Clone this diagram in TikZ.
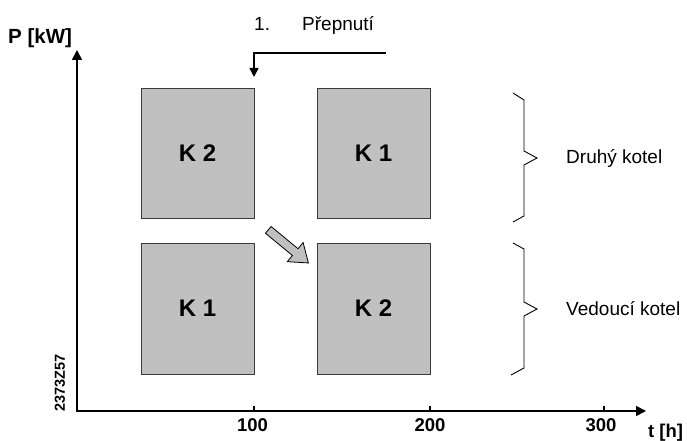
\documentclass[tikz,border=0pt]{standalone}
\usepackage{fontspec}
\setmainfont{Liberation Sans}
\usetikzlibrary{arrows.meta,shapes.arrows}

\definecolor{boxgray}{HTML}{C0C0C0}
\definecolor{edgegray}{HTML}{3A3A3A}

\tikzset{
  kbox/.style={draw=edgegray, line width=1pt, fill=boxgray,
    minimum width=113pt, minimum height=130pt, inner sep=0pt,
    font=\fontsize{24}{24}\selectfont\bfseries},
  axisline/.style={line width=1.6pt, {Triangle[length=10pt,width=10pt]}-{Triangle[length=10pt,width=10pt]}},
  tickmark/.style={line width=2pt},
  ticklabel/.style={font=\fontsize{18.5}{18.5}\selectfont\bfseries, anchor=base, inner sep=0pt},
  plain/.style={font=\fontsize{19}{19}\selectfont, anchor=base west, inner sep=0pt},
  bracket/.style={line width=0.9pt, line join=miter},
  switcharrow/.style={line width=1.5pt, -{Triangle[length=9pt,width=9pt]}},
  movearrow/.style={single arrow, draw=black, line width=0.8pt, fill=boxgray,
    inner sep=4pt, minimum height=52pt, single arrow head extend=8pt,
    single arrow tip angle=72}
}

\begin{document}
\begin{tikzpicture}[x=1pt, y=-1pt]
  \useasboundingbox (0,0) rectangle (687,441);

  % boilers in the upper and lower rows
  \node[kbox] (tl) at (197.5,153.5) {K 2};
  \node[kbox] (tr) at (373.5,153.5) {K 1};
  \node[kbox, minimum height=131pt] (bl) at (197.5,308.5) {K 1};
  \node[kbox, minimum height=131pt] (br) at (373.5,308.5) {K 2};

  % axes
  \coordinate (origin) at (77,411);
  \coordinate (ytip) at (77,50);
  \coordinate (xtip) at (646,411);
  \draw[axisline] (ytip) -- (origin) -- (xtip);

  \node[font=\fontsize{20.5}{20.5}\selectfont\bfseries, anchor=base west, inner sep=0pt] (plabel) at (8,44) {P [kW]};
  \node[font=\fontsize{18.5}{18.5}\selectfont\bfseries, anchor=base west, inner sep=0pt] (tlabel) at (648,437) {t [h]};

  % ticks and their values
  \foreach \xv/\lab/\lx in {254/100/252.5, 430/200/430, 604/300/601} {
    \draw[tickmark] (\xv,411) -- (\xv,405.5);
    \node[ticklabel] at (\lx,431) {\lab};
  }

  % drawing number
  \node[font=\fontsize{14.5}{14.5}\selectfont\bfseries, rotate=90, inner sep=0pt] (drawno) at (60,383) {2373Z57};

  % first switchover
  \node[plain] (num) at (254,31) {1.};
  \node[plain] (swtext) at (302,31) {Přepnutí};
  \coordinate (swstart) at (386,53);
  \coordinate (swcorner) at (254,53);
  \coordinate (swend) at (254,77);
  \draw[switcharrow] (swstart) -- (swcorner) -- (swend);

  % exchange arrow between the rows
  \node[movearrow, rotate=-39.5] (move) at (286,244.5) {};

  % braces
  \draw[bracket] (513,93) -- (524,100) -- (524,151) -- (537,158) -- (524,165) -- (524,216) -- (513,222);
  \draw[bracket] (513,243) -- (524,249) -- (524,302) -- (537,309) -- (524,316) -- (524,368) -- (511,375);

  \node[plain] (second) at (566,163) {Druhý kotel};
  \node[plain] (lead) at (566,315) {Vedoucí kotel};
\end{tikzpicture}
\end{document}
